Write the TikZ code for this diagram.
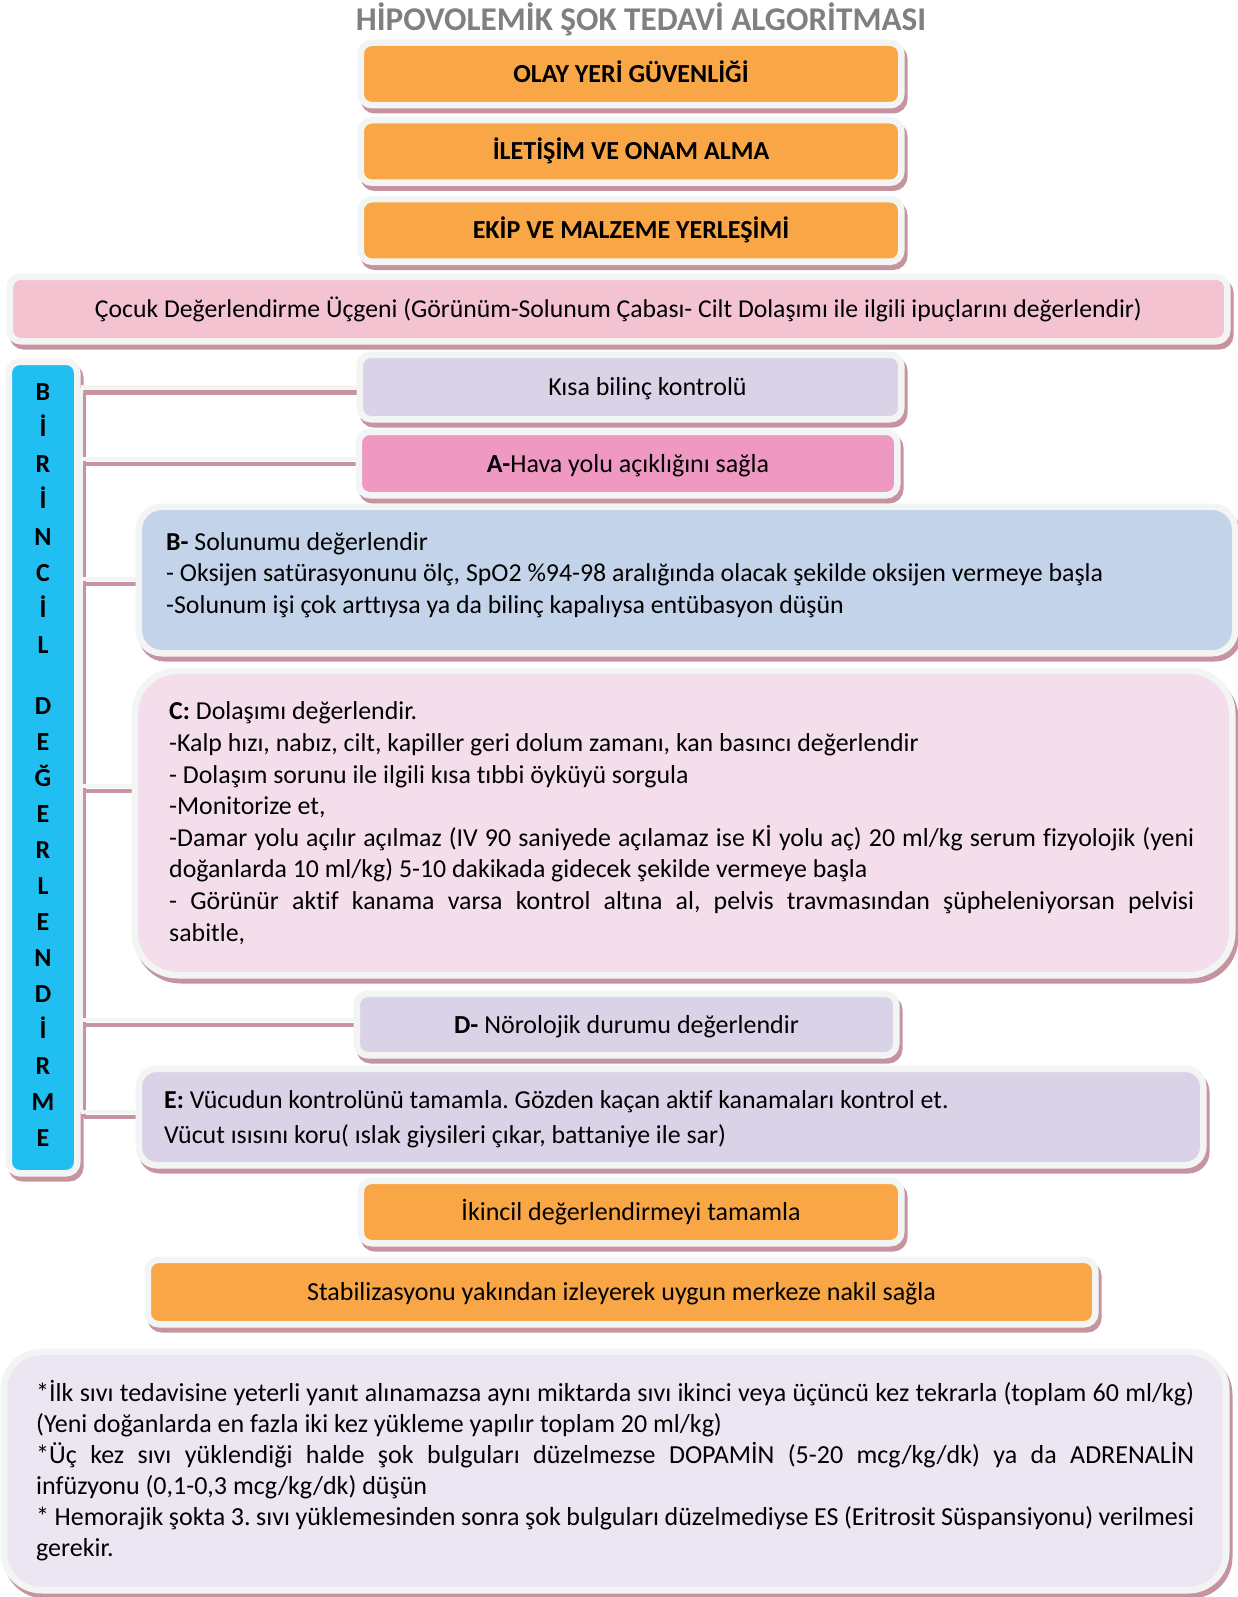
\documentclass[tikz,border=0pt]{standalone}
\usepackage{fontspec}
\setmainfont{Carlito}[Ligatures={TeX,NoCommon}]
\frenchspacing
\definecolor{framec}{HTML}{F3F5F4}
\definecolor{shadowc}{HTML}{C6939F}
\definecolor{orangec}{HTML}{F9A647}
\definecolor{triac}{HTML}{F3C3D1}
\definecolor{lavc}{HTML}{DAD3E8}
\definecolor{apink}{HTML}{EF98C2}
\definecolor{bluec}{HTML}{C3D3EA}
\definecolor{cpink}{HTML}{F4DEEB}
\definecolor{notec}{HTML}{EBE6F2}
\definecolor{barc}{HTML}{21BFF1}
\definecolor{titlec}{HTML}{808080}
% natural interword spacing inside multi-line text nodes
\newcommand\natspace{\spaceskip=0pt\xspaceskip=0pt\relax}
\begin{document}
\begin{tikzpicture}[x=1pt,y=-1pt,
  font=\fontsize{26}{31.6}\selectfont,
  card/.style={draw=framec, line width=6.5pt, inner sep=0pt, rounded corners=#1,
    preaction={draw=shadowc, fill=shadowc, transform canvas={shift={(3pt,-5pt)}}}},
  card/.default=11pt,
  label/.style={text height=17pt, text depth=0pt},
  conn/.style={draw=framec, line width=4.5pt,
    preaction={draw=shadowc, line width=4.5pt, transform canvas={shift={(3pt,-5pt)}}}},
  body/.style={anchor=north west, inner sep=0pt, align=left, text width=#1,
    font=\fontsize{25.85}{31.6}\selectfont},
  barletter/.style={anchor=base, inner sep=0pt, font=\fontsize{26}{31.6}\selectfont\bfseries},
]
\useasboundingbox (0,0) rectangle (1238,1597);

% title
\node[anchor=base, inner sep=0pt, text=titlec, font=\fontsize{33.2}{39}\selectfont\bfseries]
  (title) at (641,31) {HİPOVOLEMİK ŞOK TEDAVİ ALGORİTMASI};

% branch points on the trunk line
\coordinate (h1) at (80.5,387.5);
\coordinate (h2) at (80.5,459);
\coordinate (h3) at (80.5,579);
\coordinate (h4) at (80.5,786);
\coordinate (h5) at (80.5,1020);
\coordinate (h6) at (80.5,1112);

% top sequence
\node[card, fill=orangec, minimum width=540.5pt, minimum height=62.5pt, label] (olay) at (631,74) {\bfseries OLAY YERİ GÜVENLİĞİ};
\node[card, fill=orangec, minimum width=540.5pt, minimum height=62.5pt, label] (iletisim) at (631,151.5) {\bfseries İLETİŞİM VE ONAM ALMA};
\node[card, fill=orangec, minimum width=540.5pt, minimum height=62.5pt, label] (ekip) at (631,230.5) {\bfseries EKİP VE MALZEME YERLEŞİMİ};
\node[card, fill=triac, minimum width=1217.5pt, minimum height=64.5pt, label, font=\fontsize{25.7}{31.6}\selectfont] (ucgen) at (618.5,309) {Çocuk Değerlendirme Üçgeni (Görünüm-Solunum Çabası- Cilt Dolaşımı ile ilgili ipuçlarını değerlendir)};

% vertical side bar
\node[card, fill=barc, minimum width=68.5pt, minimum height=811.5pt] (bar) at (43,767.5) {};
\foreach \ch [count=\i from 0] in {B,İ,R,İ,N,C,İ,L}
  \node[barletter] (bw\i) at (43,400.5+36.15*\i) {\ch};
\foreach \ch [count=\i from 0] in {D,E,Ğ,E,R,L,E,N,D,İ,R,M,E}
  \node[barletter] (dw\i) at (43,714+36.05*\i) {\ch};

% connectors
\draw[conn] (h1) -- (h6);
\draw[conn] (h1) -- (362,387.5) coordinate (k1);
\draw[conn] (h2) -- (360,459) coordinate (k2);
\draw[conn] (h3) -- (140,579) coordinate (k3);
\draw[conn] (h4) -- (136,786) coordinate (k4);
\draw[conn] (h5) -- (358,1020) coordinate (k5);
\draw[conn] (h6) -- (140,1112) coordinate (k6);

% primary assessment steps
\node[card, fill=lavc, minimum width=541.5pt, minimum height=64.5pt, label] (kisa) at (630.5,387) {\hspace*{34pt}Kısa bilinç kontrolü};
\node[card, fill=apink, minimum width=538.5pt, minimum height=63.5pt, label] (ahava) at (628,463.5) {\textbf{A-}Hava yolu açıklığını sağla};
\node[card=23pt, fill=bluec, minimum width=1096.5pt, minimum height=146.5pt] (bbox) at (687,580) {};
\node[body=1050pt] (btext) at (166,527.9) {\natspace\strut\textbf{B-} Solunumu değerlendir\\
- Oksijen satürasyonunu ölç, SpO2 \%94-98 aralığında olacak şekilde oksijen vermeye başla\\
-Solunum işi çok arttıysa ya da bilinç kapalıysa entübasyon düşün};

\node[card=43pt, fill=cpink, minimum width=1097.5pt, minimum height=304.5pt] (cbox) at (683.5,823) {};
\node[body=1025pt] (ctext) at (169,697.5) {\natspace\strut\textbf{C:} Dolaşımı değerlendir.\\
-Kalp hızı, nabız, cilt, kapiller geri dolum zamanı, kan basıncı değerlendir\\
- Dolaşım sorunu ile ilgili kısa tıbbi öyküyü sorgula\\
-Monitorize et,\\
\makebox[1025pt][s]{-Damar yolu açılır açılmaz (IV 90 saniyede açılamaz ise Kİ yolu aç) 20 ml/kg serum fizyolojik (yeni}\\
doğanlarda 10 ml/kg) 5-10 dakikada gidecek şekilde vermeye başla\\
\makebox[1025pt][s]{- Görünür aktif kanama varsa kontrol altına al, pelvis travmasından şüpheleniyorsan pelvisi}\\
sabitle,};

\node[card, fill=lavc, minimum width=539.5pt, minimum height=61.5pt, label] (dbox) at (626.5,1024.5) {\textbf{D-} Nörolojik durumu değerlendir};

\node[card=18pt, fill=lavc, minimum width=1064.5pt, minimum height=96.5pt] (ebox) at (671,1117) {};
\node[body=1030pt, font=\fontsize{25.85}{35.6}\selectfont] (etext) at (164,1083.1) {\natspace\strut\textbf{E:} Vücudun kontrolünü tamamla. Gözden kaçan aktif kanamaları kontrol et.\\
Vücut ısısını koru( ıslak giysileri çıkar, battaniye ile sar)};

% closing steps
\node[card, fill=orangec, minimum width=540.5pt, minimum height=62.5pt, label] (ikincil) at (631,1212) {İkincil değerlendirmeyi tamamla};
\node[card, fill=orangec, minimum width=947.5pt, minimum height=64.5pt, label] (stab) at (621.5,1292) {Stabilizasyonu yakından izleyerek uygun merkeze nakil sağla};

% notes
\node[card=38pt, fill=notec, minimum width=1222.5pt, minimum height=238.5pt] (note) at (615,1471) {};
\node[body=1158pt, font=\fontsize{26}{31}\selectfont] (ntext) at (36,1379.3) {\natspace\strut\makebox[1158pt][s]{*İlk sıvı tedavisine yeterli yanıt alınamazsa aynı miktarda sıvı ikinci veya üçüncü kez tekrarla (toplam 60 ml/kg)}\\
(Yeni doğanlarda en fazla iki kez yükleme yapılır toplam 20 ml/kg)\\
\makebox[1158pt][s]{*Üç kez sıvı yüklendiği halde şok bulguları düzelmezse DOPAMİN (5-20 mcg/kg/dk) ya da ADRENALİN}\\
infüzyonu (0,1-0,3 mcg/kg/dk) düşün\\
\makebox[1158pt][s]{* Hemorajik şokta 3. sıvı yüklemesinden sonra şok bulguları düzelmediyse ES (Eritrosit Süspansiyonu) verilmesi}\\
gerekir.};
\end{tikzpicture}
\end{document}
